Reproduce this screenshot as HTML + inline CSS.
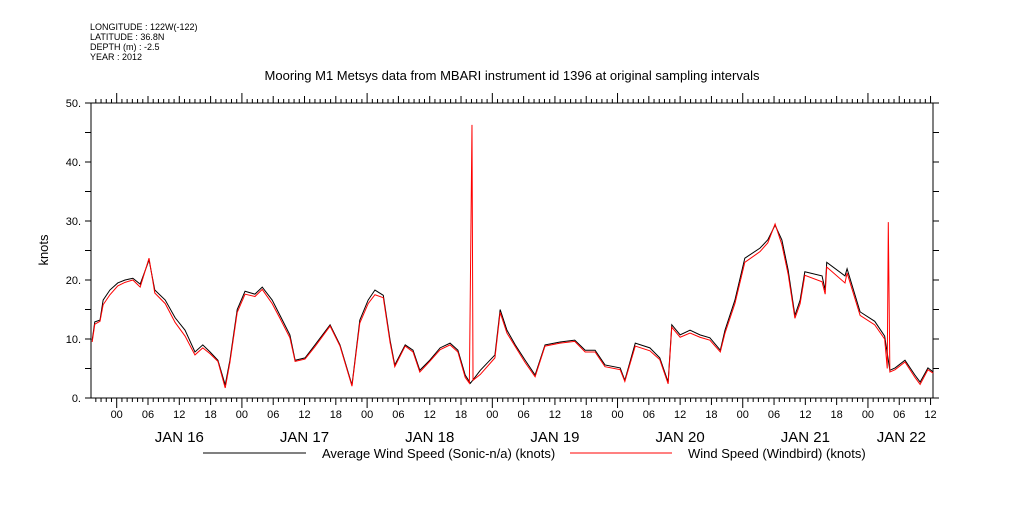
<!DOCTYPE html>
<html><head><meta charset="utf-8"><style>
body{margin:0;background:#fff;width:1009px;height:504px;overflow:hidden}
svg{font-family:"Liberation Sans",sans-serif}
</style></head><body>
<svg id="c" width="1009" height="504">
<g font-size="9" fill="#000">
<text x="90" y="30">LONGITUDE : 122W(-122)</text>
<text x="90" y="40">LATITUDE : 36.8N</text>
<text x="90" y="50">DEPTH (m) : -2.5</text>
<text x="90" y="60">YEAR : 2012</text>
</g>
<text x="512" y="80" font-size="13" text-anchor="middle">Mooring M1 Metsys data from MBARI instrument id 1396 at original sampling intervals</text>
<text x="48" y="250" font-size="13" text-anchor="middle" transform="rotate(-90 48 250)">knots</text>
<g id="axes"></g>
<g id="series"></g>
<g>
<line x1="203" y1="453" x2="306" y2="453" stroke="#000"/>
<text x="322" y="458" font-size="13">Average Wind Speed (Sonic-n/a) (knots)</text>
<line x1="570" y1="453" x2="672" y2="453" stroke="#f00"/>
<text x="688" y="458" font-size="13">Wind Speed (Windbird) (knots)</text>
</g>
</svg>
<script>
const blackHours=[-4.7,-4.2,-3.2,-2.6,-1.3,0.2,1.6,3.1,4.5,6.2,7.3,9.3,11.2,13.1,15.0,16.5,17.9,19.4,20.8,21.7,23.1,24.6,26.5,27.9,29.8,31.3,33.2,34.2,36.1,38.0,40.9,42.8,45.1,46.6,48.2,49.5,51.1,52.4,53.3,55.3,56.8,58.1,60.0,62.0,63.9,65.4,66.8,67.8,69.7,72.5,73.5,74.8,76.4,78.3,80.2,82.1,85.0,87.8,89.8,91.7,93.6,96.5,97.4,99.4,102.2,104.1,105.7,106.4,108.0,109.9,111.8,113.7,115.7,116.6,118.5,120.4,123.3,124.8,126.2,127.5,128.7,130.0,131.0,131.9,135.2,135.8,136.1,139.6,140.0,142.5,145.3,147.2,148.2,149.2,151.1,153.0,154.0,155.5,156.5];
const blackValues=[9.8,12.9,13.2,16.6,18.3,19.5,20,20.3,19.3,23.4,18.3,16.6,13.6,11.5,7.8,9,7.8,6.4,2.2,6.4,15,18.1,17.6,18.8,16.6,14,10.7,6.4,6.8,9,12.4,9,2.2,13.2,16.6,18.3,17.4,9.8,5.6,9,8.1,4.7,6.4,8.5,9.3,8.1,3.9,2.5,4.7,7.3,15,11.5,9,6.4,3.9,9,9.5,9.8,8.1,8.1,5.6,5.1,3,9.3,8.5,6.8,2.7,12.4,10.7,11.5,10.7,10.2,8.1,11.5,16.6,23.7,25.4,26.8,29.3,26.8,21.7,14,16.6,21.4,20.7,18.3,23,20.7,21.9,14.6,13,10.5,4.7,5.1,6.4,3.9,2.7,5.1,4.4];
const redHours=[-4.7,-4.2,-3.2,-2.6,-1.3,0.2,1.6,3.1,4.5,6.2,7.3,9.3,11.2,13.1,15.0,16.5,17.9,19.4,20.8,21.7,23.1,24.6,26.5,27.9,29.8,31.3,33.2,34.2,36.1,38.0,40.9,42.8,45.1,46.6,48.2,49.5,51.1,52.4,53.3,55.3,56.8,58.1,60.0,62.0,63.9,65.4,66.8,67.6,68.1,68.3,69.7,72.5,73.5,74.8,76.4,78.3,80.2,82.1,85.0,87.8,89.8,91.7,93.6,96.5,97.4,99.4,102.2,104.1,105.7,106.4,108.0,109.9,111.8,113.7,115.7,116.6,118.5,120.4,123.3,124.8,126.2,127.5,128.7,130.0,131.0,131.9,135.2,135.8,136.1,139.6,140.0,142.5,145.3,147.2,147.7,147.9,148.2,149.2,151.1,153.0,154.0,155.5,156.5];
const redValues=[9.5,12.5,13,15.8,17.5,19,19.6,20,18.8,23.7,17.8,16,12.8,10.5,7.3,8.5,7.5,6.2,1.7,6,14.5,17.6,17.2,18.4,16,13.5,10.2,6.2,6.6,8.7,12.2,8.8,2,12.7,16,17.5,17,9.4,5.3,8.8,7.8,4.4,6.2,8.2,9,7.8,3.5,2.5,46.3,3,4,6.8,14.5,11,8.7,6,3.6,8.8,9.3,9.6,7.8,7.8,5.3,4.8,2.8,8.8,8,6.5,2.4,12,10.3,11,10.3,9.8,7.8,11,16,23,24.8,26.3,29.5,26,21,13.5,16,20.8,19.7,17.6,22.2,19.5,21.2,14,12.4,10,5,29.8,4.4,4.8,6.1,3.5,2.3,4.8,4.2];
const yTicks=[0,10,20,30,40,50];
const yTickLabels=["0.","10.","20.","30.","40.","50."];
const dayLabels=["JAN 16","JAN 17","JAN 18","JAN 19","JAN 20","JAN 21","JAN 22"];
const hourLabels=["00","06","12","18"];
const L=91,R=933,T=103,B=398,H0=116.7,PX=5.217;
const xs=h=>H0+h*PX, ys=v=>B-(B-T)*v/50;
const NS="http://www.w3.org/2000/svg";
function mk(p,tag,at){const e=document.createElementNS(NS,tag);for(const k in at)e.setAttribute(k,at[k]);p.appendChild(e);return e;}
const ax=document.getElementById('axes');
const frame=mk(ax,'rect',{x:L,y:T,width:R-L,height:B-T,fill:'none',stroke:'#000'});


let d='';
for(let v=0;v<=50;v+=5){const y=ys(v);d+=`M${L-6},${y}H${L}M${R},${y}H${R+6}`;}
for(let h=-4;h<=156;h++){const x=xs(h);const len=(h%24===0)?10:(h%6===0?7:4);
 d+=`M${x},${B}V${B+len}M${x},${T}V${T-len}`;}
const ticks=mk(ax,'path',{d:d,stroke:'#000',fill:'none','stroke-width':1});


yTicks.forEach((v,i)=>{const t=mk(ax,'text',{x:L-10,y:ys(v)+4,'font-size':11,'text-anchor':'end'});t.textContent=yTickLabels[i];
 
 });
for(let h=0;h<=156;h+=6){const t=mk(ax,'text',{x:xs(h),y:418,'font-size':11,'text-anchor':'middle'});t.textContent=hourLabels[(h/6)%4];
 
 }
dayLabels.forEach((s,i)=>{const hc=Math.min(i*24+12,150.4);const t=mk(ax,'text',{x:xs(hc),y:442,'font-size':15,'text-anchor':'middle'});t.textContent=s;
 
 });
const sg=document.getElementById('series');
function line(hs,vs,col,name){const p=mk(sg,'polyline',{points:hs.map((h,i)=>xs(h)+','+ys(vs[i])).join(' '),fill:'none',stroke:col,'stroke-width':1});
 
 }
line(blackHours,blackValues,'#000','average-wind-speed-line');
line(redHours,redValues,'#f00','windbird-wind-speed-line');
</script>
</body></html>
